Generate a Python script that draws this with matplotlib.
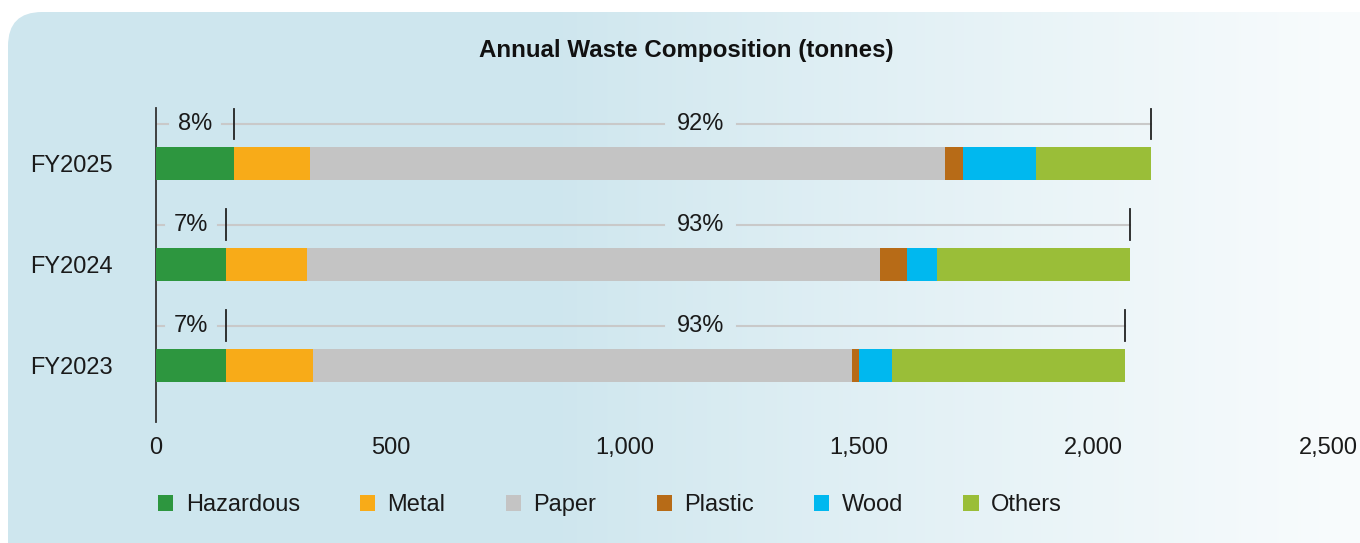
import numpy as np
import matplotlib
matplotlib.use('Agg')
import matplotlib.pyplot as plt
from matplotlib.patches import FancyBboxPatch, Patch

plt.rcParams['font.family'] = ['Liberation Sans', 'DejaVu Sans']

# data (tonnes), bottom to top
years = ['FY2023', 'FY2024', 'FY2025']
categories = ['Hazardous', 'Metal', 'Paper', 'Plastic', 'Wood', 'Others']
hazardous = [149, 149, 166]
metal = [186, 173, 162]
paper = [1149, 1222, 1356]
plastic = [15, 58, 37]
wood = [72, 65, 157]
others = [497, 410, 244]
x_ticks = [0, 500, 1000, 1500, 2000, 2500]

colors = ['#2d963f', '#f8ab18', '#c4c4c4', '#b76b17', '#00b8ef', '#9abe38']
series = [hazardous, metal, paper, plastic, wood, others]

W, H = 1360, 543
fig = plt.figure(figsize=(W / 100, H / 100), dpi=100)
fig.patch.set_facecolor('white')

# background panel: light blue fading to white on the right
left_rgb = np.array([206, 230, 238]) / 255
right_rgb = np.array([249, 252, 253]) / 255

def bg_color(xpix):
    t = np.clip((xpix - 550) / (W - 550), 0, 1) ** 0.9
    return left_rgb * (1 - t) + right_rgb * t

bg = fig.add_axes([0, 0, 1, 1], zorder=-5)
bg.set_xlim(0, W)
bg.set_ylim(0, H)
bg.axis('off')
grad = np.array([bg_color(x) for x in np.arange(W)])[None, :, :]
im = bg.imshow(grad, extent=(0, W, 0, H), aspect='auto', origin='lower')
panel = FancyBboxPatch((8, -60), W + 100, H - 12 + 60,
                       boxstyle='round,pad=0,rounding_size=34',
                       fc='none', ec='none', transform=bg.transData)
bg.add_patch(panel)
im.set_clip_path(panel)

# main axes in pixel placement
ax_l, ax_r, ax_t, ax_b = 156, 1328, 108, 422
ax = fig.add_axes([ax_l / W, (H - ax_b) / H, (ax_r - ax_l) / W, (ax_b - ax_t) / H])
ax.set_facecolor('none')

y = np.arange(len(years))
left = np.zeros(len(years))
for vals, c, name in zip(series, colors, categories):
    ax.barh(y, vals, left=left, height=0.32, color=c, label=name, zorder=3)
    left = left + np.array(vals)
totals = left

ax.set_xlim(0, 2500)
ax.set_ylim(-0.56, 2.55)
ax.set_xticks(x_ticks)
ax.set_xticklabels([f'{v:,}' for v in x_ticks])
ax.set_yticks(y)
ax.set_yticklabels(years)
ax.tick_params(axis='x', length=0, pad=11, labelsize=17, labelcolor='#1a1a1a')
ax.tick_params(axis='y', length=0, pad=31, labelsize=17, labelcolor='#1a1a1a')
for s in ['top', 'right', 'bottom']:
    ax.spines[s].set_visible(False)
ax.spines['left'].set_color('#333333')
ax.spines['left'].set_linewidth(1.3)

# share brackets above each bar: labels first, then the line is drawn around them
big_label_x = 1162
brackets = []
for i in range(len(years)):
    yy = y[i] + 0.395
    h = hazardous[i]
    tot = totals[i]
    pct_h = round(h / tot * 100)
    t1 = ax.text(h / 2, yy, f'{pct_h}%', ha='center', va='center', fontsize=17,
                 color='#1a1a1a', zorder=5)
    t2 = ax.text(big_label_x, yy, f'{100 - pct_h}%', ha='center', va='center', fontsize=17,
                 color='#1a1a1a', zorder=5)
    for xv in (h, tot):
        ax.plot([xv, xv], [yy - 0.15, yy + 0.15], color='#222222', lw=1.3, zorder=4)
    brackets.append((yy, tot, [(t1, 10), (t2, 13)]))

fig.canvas.draw()
renderer = fig.canvas.get_renderer()
inv = ax.transData.inverted()
for yy, tot, labels in brackets:
    cuts = []
    for t, pad in labels:
        bb = t.get_window_extent(renderer)
        x0 = inv.transform((bb.x0 - pad, 0))[0]
        x1 = inv.transform((bb.x1 + pad, 0))[0]
        cuts.append((x0, x1))
    start = 0
    for x0, x1 in cuts:
        ax.plot([start, x0], [yy, yy], color='#c9c9c9', lw=1.5, zorder=2)
        start = x1
    ax.plot([start, tot], [yy, yy], color='#c9c9c9', lw=1.5, zorder=2)

fig.text(686 / W, 1 - 51 / H, 'Annual Waste Composition (tonnes)', ha='center', va='center',
         fontsize=17.4, fontweight='bold', color='#111111')

handles = [Patch(facecolor=c, edgecolor='none', label=n) for c, n in zip(colors, categories)]
fig.legend(handles=handles, loc='center left', bbox_to_anchor=(158 / W, (H - 505) / H),
           ncol=6, frameon=False, fontsize=17, handlelength=0.65, handleheight=0.65,
           handletextpad=0.52, columnspacing=2.55, borderpad=0, borderaxespad=0,
           labelcolor='#1a1a1a')

fig.savefig('out.png', dpi=100, facecolor=fig.get_facecolor())
